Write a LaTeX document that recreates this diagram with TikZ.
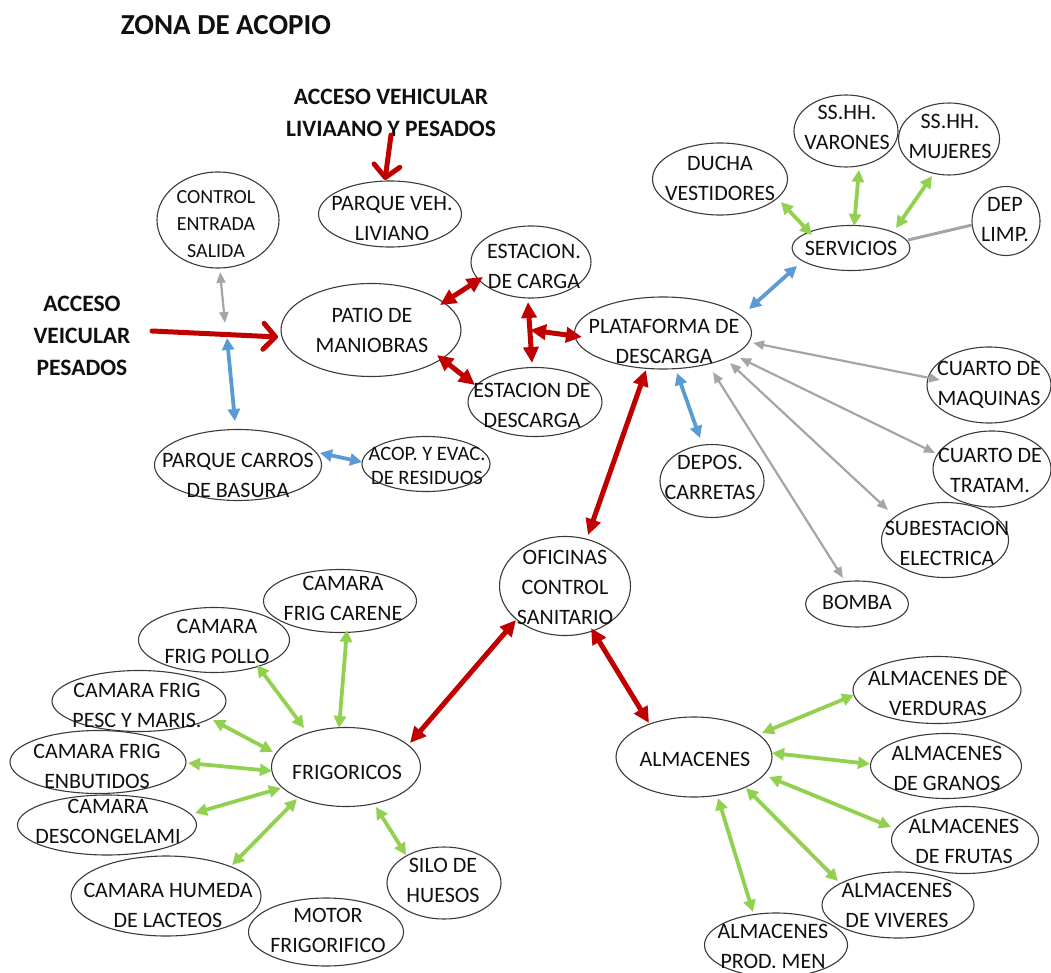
\documentclass[tikz,border=0pt]{standalone}
\usepackage{fontspec}
\setmainfont{Carlito}
\usetikzlibrary{arrows.meta,shapes.geometric}

\definecolor{redA}{HTML}{C00000}
\definecolor{blueA}{HTML}{5B9BD5}
\definecolor{greenA}{HTML}{92D050}
\definecolor{grayA}{HTML}{A5A5A5}
\definecolor{rim}{HTML}{3A3A3A}
\definecolor{ink}{HTML}{101010}

\tikzset{
  blob/.style={ellipse, draw=rim, line width=1.1pt, inner sep=0pt, outer sep=0pt},
  lbl/.style={align=center, inner sep=0pt, text=ink, font=\fontsize{22}{30}\selectfont},
  small/.style={font=\fontsize{20}{27}\selectfont},
  tiny/.style={font=\fontsize{20.5}{24}\selectfont},
  hd/.style={align=center, inner sep=0pt, text=ink, font=\bfseries\fontsize{23.5}{31.5}\selectfont},
  red2/.style={draw=redA, line width=5pt,
    {Triangle[length=16pt,width=15pt]}-{Triangle[length=16pt,width=15pt]}},
  blue2/.style={draw=blueA, line width=3.8pt,
    {Triangle[length=12pt,width=12pt]}-{Triangle[length=12pt,width=12pt]}},
  green2/.style={draw=greenA, line width=3.8pt,
    {Triangle[length=12pt,width=12pt]}-{Triangle[length=12pt,width=12pt]}},
  gray2/.style={draw=grayA, line width=2.2pt,
    {Triangle[length=11pt,width=9pt]}-{Triangle[length=11pt,width=9pt]}},
  grayln/.style={draw=grayA, line width=3pt},
  red1/.style={draw=redA, line width=5pt, line cap=round,
    -{Straight Barb[length=12pt,width=26pt,round]}},
}

% ellipse with its caption: [caption style]{name}{centre}{width}{height}{caption centre}{caption}
\newcommand\blob[7][]{%
  \node[blob, minimum width=#4pt, minimum height=#5pt] (#2) at #3 {};
  \node[lbl,#1] (#2-t) at #6 {#7};}

\begin{document}
\begin{tikzpicture}[x=1pt,y=-1pt]
\useasboundingbox (0,0) rectangle (1051,973);

% headings
\node[hd, font=\bfseries\fontsize{29}{34}\selectfont] (zona) at (226,25) {ZONA DE ACOPIO};
\node[hd] (liviano) at (391,113) {ACCESO VEHICULAR\\LIVIAANO Y PESADOS};
\node[hd, font=\bfseries\fontsize{23.5}{32}\selectfont] (pesados) at (82,336) {ACCESO\\VEICULAR\\PESADOS};

% entrance area
\blob{parqveh}{(390,214)}{143}{66}{(392,218)}{PARQUE VEH.\\LIVIANO}
\blob[small]{control}{(218,220)}{122}{96}{(216,224)}{CONTROL\\ENTRADA\\SALIDA}
\blob{patio}{(371,330)}{180}{93}{(372,330)}{PATIO DE\\MANIOBRAS}
\blob{carros}{(238,465)}{167}{71}{(238,475)}{PARQUE CARROS\\DE BASURA}
\blob[tiny]{acop}{(426,464)}{128}{55}{(427,466)}{ACOP. Y EVAC.\\DE RESIDUOS}
\blob{carga}{(531,262)}{120}{72}{(534,266)}{ESTACION.\\DE CARGA}
\blob{descarga}{(535,402)}{134}{69}{(532,405)}{ESTACION DE\\DESCARGA}

% unloading platform and services
\blob{plat}{(663,333)}{177}{72}{(664,341)}{PLATAFORMA DE\\DESCARGA}
\blob{serv}{(851,248)}{118}{45}{(851,248)}{SERVICIOS}
\blob{ducha}{(720,179)}{135}{72}{(720,178)}{DUCHA\\VESTIDORES}
\blob{varones}{(846,131)}{104}{72}{(847,127)}{SS.HH.\\VARONES}
\blob{mujeres}{(949,139)}{101}{72}{(950,136)}{SS.HH.\\MUJERES}
\blob{deplimp}{(1006,221)}{68}{69}{(1005,220)}{DEP\\LIMP.}
\blob{maquinas}{(989,385)}{124}{76}{(989,385)}{CUARTO DE\\MAQUINAS}
\blob{tratam}{(992,469)}{118}{76}{(990,470)}{CUARTO DE\\TRATAM.}
\blob{subest}{(945,540)}{127}{75}{(947,543)}{SUBESTACION\\ELECTRICA}
\blob{bomba}{(857,604)}{103}{46}{(857,602)}{BOMBA}
\blob{depos}{(712,481)}{104}{73}{(710,477)}{DEPOS.\\CARRETAS}

% offices and stores
\blob{ofic}{(565,586)}{131}{99}{(565,587)}{OFICINAS\\CONTROL\\SANITARIO}
\blob{almac}{(694,757)}{156}{80}{(695,759)}{ALMACENES}
\blob{verd}{(937,690)}{168}{67}{(938,693)}{ALMACENES DE\\VERDURAS}
\blob{granos}{(946,766)}{151}{65}{(947,768)}{ALMACENES\\DE GRANOS}
\blob{frutas}{(965,840)}{147}{67}{(964,841)}{ALMACENES\\DE FRUTAS}
\blob{viveres}{(898,905)}{152}{66}{(897,905)}{ALMACENES\\DE VIVERES}
\blob{prodmen}{(776,945)}{143}{64}{(773,946)}{ALMACENES\\PROD. MEN}

% cold rooms
\blob{frig}{(346,767)}{149}{79}{(347,772)}{FRIGORICOS}
\blob{carene}{(340,601)}{153}{63}{(343,598)}{CAMARA\\FRIG CARENE}
\blob{pollo}{(214,640)}{151}{65}{(217,641)}{CAMARA\\FRIG POLLO}
\blob{pesc}{(139,701)}{174}{61}{(137,705)}{CAMARA FRIG\\PESC Y MARIS.}
\blob{enbut}{(98,762)}{176}{63}{(97,766)}{CAMARA FRIG\\ENBUTIDOS}
\blob{descong}{(107,825)}{179}{60}{(108,821)}{CAMARA\\DESCONGELAMI}
\blob{humeda}{(166,896)}{190}{80}{(168,905)}{CAMARA HUMEDA\\DE LACTEOS}
\blob{motor}{(326,932)}{155}{68}{(328,930)}{MOTOR\\FRIGORIFICO}
\blob{silo}{(444,883)}{114}{72}{(443,880)}{SILO DE\\HUESOS}

% free ends of the access arrows and junctions
\coordinate (inA) at (152,331);
\coordinate (inB) at (391,135);
\coordinate (jA) at (225,323);
\coordinate (jB) at (227,338);
\coordinate (jC) at (530,330);

% vehicle access
\draw[red1] (inA) -- ([shift={(-93,7)}]patio.center);
\draw[red1] (inB) -- ([shift={(-5,-34)}]parqveh.center);
\draw[gray2] ([shift={(2,52)}]control.center) -- (jA);
\draw[blue2] (jB) -- ([shift={(-3,-44)}]carros.center);
\draw[blue2] ([shift={(82,-12)}]carros.center) -- ([shift={(-64,-2)}]acop.center);

% manoeuvre yard and stations
\draw[red2] ([shift={(69,-25)}]patio.center) -- ([shift={(-48,15)}]carga.center);
\draw[red2] ([shift={(66,25)}]patio.center) -- ([shift={(-60,-17)}]descarga.center);
\draw[red2] ([shift={(-3,40)}]carga.center) -- ([shift={(-3,-39)}]descarga.center);
\draw[red2] (jC) -- ([shift={(-81,4)}]plat.center);

% main axis
\draw[red2] ([shift={(-17,37)}]plat.center) -- ([shift={(23,-51)}]ofic.center);
\draw[red2] ([shift={(-49,34)}]ofic.center) -- ([shift={(64,-24)}]frig.center);
\draw[red2] ([shift={(26,42)}]ofic.center) -- ([shift={(-45,-34)}]almac.center);

% platform links
\draw[blue2] ([shift={(86,-24)}]plat.center) -- ([shift={(-54,18)}]serv.center);
\draw[blue2] ([shift={(14,40)}]plat.center) -- ([shift={(-12,-43)}]depos.center);
\draw[gray2] ([shift={(90,10)}]plat.center) -- ([shift={(-49,-5)}]maquinas.center);
\draw[gray2] ([shift={(77,25)}]plat.center) -- ([shift={(-57,-16)}]tratam.center);
\draw[gray2] ([shift={(67,30)}]plat.center) -- ([shift={(-57,-30)}]subest.center);
\draw[gray2] ([shift={(50,39)}]plat.center) -- ([shift={(-14,-26)}]bomba.center);

% services
\draw[green2] ([shift={(-39,-13)}]serv.center) -- ([shift={(61,23)}]ducha.center);
\draw[green2] ([shift={(3,-22)}]serv.center) -- ([shift={(13,39)}]varones.center);
\draw[green2] ([shift={(45,-20)}]serv.center) -- ([shift={(-17,37)}]mujeres.center);
\draw[grayln] ([shift={(57,-8)}]serv.center) -- ([shift={(-34,4)}]deplimp.center);

% cold rooms
\draw[green2] ([shift={(-42,-39)}]frig.center) -- ([shift={(43,25)}]pollo.center);
\draw[green2] ([shift={(-7,-39)}]frig.center) -- ([shift={(7,29)}]carene.center);
\draw[green2] ([shift={(-73,-15)}]frig.center) -- ([shift={(74,19)}]pesc.center);
\draw[green2] ([shift={(-74,4)}]frig.center) -- ([shift={(90,1)}]enbut.center);
\draw[green2] ([shift={(-65,21)}]frig.center) -- ([shift={(88,-12)}]descong.center);
\draw[green2] ([shift={(-49,32)}]frig.center) -- ([shift={(66,-31)}]humeda.center);
\draw[green2] ([shift={(30,40)}]frig.center) -- ([shift={(-38,-28)}]silo.center);

% stores
\draw[green2] ([shift={(68,-24)}]almac.center) -- ([shift={(-83,5)}]verd.center);
\draw[green2] ([shift={(78,-4)}]almac.center) -- ([shift={(-76,-2)}]granos.center);
\draw[green2] ([shift={(75,20)}]almac.center) -- ([shift={(-74,-13)}]frutas.center);
\draw[green2] ([shift={(52,31)}]almac.center) -- ([shift={(-60,-24)}]viveres.center);
\draw[green2] ([shift={(24,41)}]almac.center) -- ([shift={(-23,-33)}]prodmen.center);
\end{tikzpicture}
\end{document}
